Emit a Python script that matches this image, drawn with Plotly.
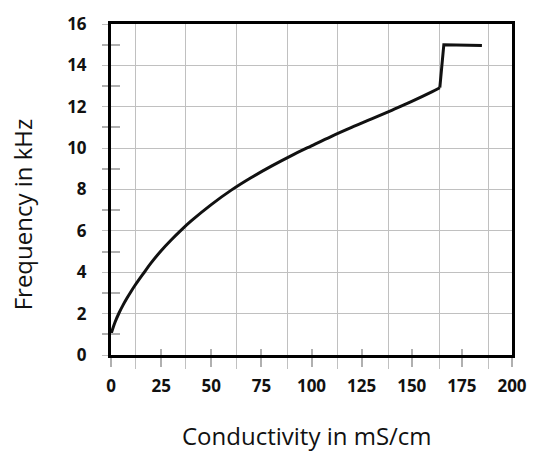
import plotly.graph_objects as go

conductivity = [0, 2, 4, 6, 8, 10, 12, 16, 20, 25, 30, 35, 40, 50, 60, 70, 80, 90,
                100, 110, 120, 130, 140, 150, 160, 164, 166, 185]
frequency = [1.0, 1.58, 2.03, 2.41, 2.75, 3.07, 3.37, 3.92, 4.45, 5.04, 5.56, 6.04, 6.48,
             7.27, 7.97, 8.58, 9.13, 9.64, 10.11, 10.57, 11.0, 11.41, 11.83, 12.26, 12.72,
             12.92, 15.0, 14.96]

x_ticks = [0, 25, 50, 75, 100, 125, 150, 175, 200]
x_grid = [12, 37, 62.5, 88, 113, 138.5, 164, 188.5]
y_ticks = [0, 2, 4, 6, 8, 10, 12, 14, 16]
y_minor = [1, 3, 5, 7, 9, 11, 13, 15]

FONT = "Open Sans"
GRID = "#c0c0c0"
TICK = "#b0b0b0"
LINE = "#111111"

n_curve = 26  # smooth part ends at the jump

fig = go.Figure()
fig.add_trace(go.Scatter(x=conductivity[:n_curve], y=frequency[:n_curve], mode="lines",
                         line=dict(color=LINE, width=3, shape="spline", smoothing=1.0),
                         showlegend=False, hoverinfo="skip"))
fig.add_trace(go.Scatter(x=conductivity[n_curve - 1:], y=frequency[n_curve - 1:], mode="lines",
                         line=dict(color=LINE, width=3), showlegend=False, hoverinfo="skip"))

fig.update_layout(
    width=539, height=453, autosize=False,
    margin=dict(l=111, r=20, t=16, b=98),
    paper_bgcolor="white", plot_bgcolor="white",
    xaxis=dict(
        range=[0, 200], tickmode="array", tickvals=x_ticks,
        showgrid=False, zeroline=False,
        showline=True, mirror=True, linecolor="black", linewidth=3,
        ticks="outside", ticklen=9, tickcolor=TICK, tickwidth=1.5,
        ticklabelstandoff=5,
        tickfont=dict(family=FONT, size=17, color="#111111", weight="bold"),
        minor=dict(tickmode="array", tickvals=x_grid, showgrid=True,
                   gridcolor=GRID, gridwidth=1.3,
                   ticks="outside", ticklen=11, tickcolor=GRID, tickwidth=1.3),
    ),
    xaxis2=dict(
        range=[0, 200], overlaying="x", side="bottom", tickmode="array",
        tickvals=x_ticks, showticklabels=False, showgrid=False, zeroline=False,
        ticks="inside", ticklen=6, tickcolor=TICK, tickwidth=1.5,
    ),
    yaxis=dict(
        range=[0, 16], tickmode="array", tickvals=y_ticks,
        showgrid=True, gridcolor=GRID, gridwidth=1.3, zeroline=False,
        showline=True, mirror=True, linecolor="black", linewidth=3,
        ticks="outside", ticklen=6, tickcolor=GRID, tickwidth=1.3,
        ticklabelstandoff=12,
        tickfont=dict(family=FONT, size=17, color="#111111", weight="bold"),
        minor=dict(tickmode="array", tickvals=y_minor, showgrid=False,
                   ticks="outside", ticklen=6, tickcolor=TICK, tickwidth=1.5),
    ),
    yaxis2=dict(
        range=[0, 16], overlaying="y", side="left", tickmode="array",
        tickvals=y_minor, showticklabels=False, showgrid=False, zeroline=False,
        ticks="inside", ticklen=9, tickcolor=TICK, tickwidth=1.5,
    ),
    annotations=[
        dict(text="Conductivity in mS/cm", xref="paper", yref="paper",
             x=0.488, y=-0.242, xanchor="center", yanchor="middle", showarrow=False,
             font=dict(family=FONT, size=24, color="#111111")),
        dict(text="Frequency in kHz", xref="paper", yref="paper",
             x=-0.222, y=0.425, xanchor="center", yanchor="middle", showarrow=False,
             textangle=-90, font=dict(family=FONT, size=24, color="#111111")),
    ],
)
fig.add_trace(go.Scatter(x=[None], y=[None], xaxis="x2", yaxis="y2",
                         showlegend=False, hoverinfo="skip"))

fig.write_html("out.html", config={"displayModeBar": False},
               post_script="document.body.style.margin='0';document.body.style.overflow='hidden';")
